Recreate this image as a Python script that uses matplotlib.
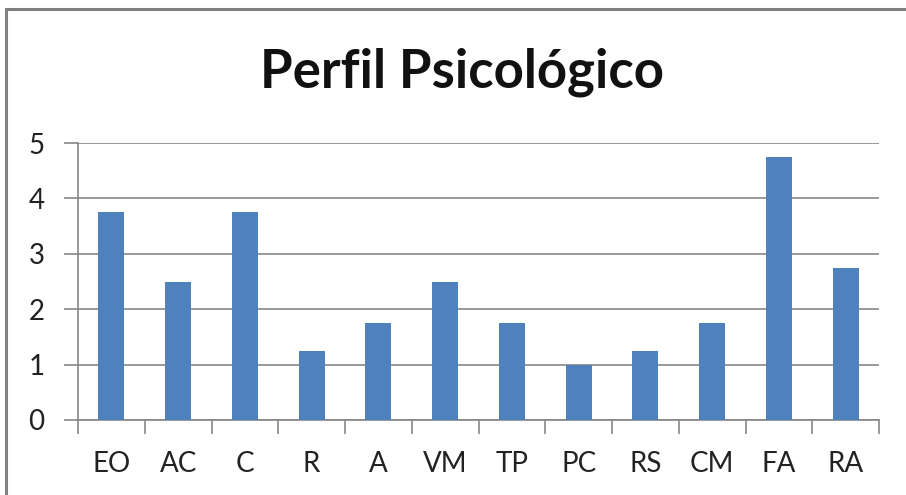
import matplotlib
matplotlib.use("Agg")
import matplotlib.pyplot as plt
from matplotlib.patches import Rectangle
import numpy as np

categories = ["EO", "AC", "C", "R", "A", "VM", "TP", "PC", "RS", "CM", "FA", "RA"]
values = [3.75, 2.5, 3.75, 1.25, 1.75, 2.5, 1.75, 1.0, 1.25, 1.75, 4.75, 2.75]
yticks = [0, 1, 2, 3, 4, 5]
title = "Perfil Psicológico"

plt.rcParams['font.family'] = ['Lato', 'DejaVu Sans']

fig = plt.figure(figsize=(9.06, 4.95), dpi=100)
fig.patches.append(Rectangle((6/906, -0.1), 1.0, 1 - 9/495 + 0.1, transform=fig.transFigure,
                             fill=False, edgecolor='#808080', linewidth=2.2))
ax = fig.add_axes([78/906, 1 - 420/495, (879 - 78)/906, (420 - 143)/495])

x = np.arange(len(categories))
ax.bar(x, values, width=0.39, color='#4F81BD', zorder=3)
ax.set_xlim(-0.5, len(categories) - 0.5)
ax.set_ylim(0, 5)
ax.set_yticks(yticks)
ax.set_yticklabels([str(t) for t in yticks], fontsize=20, color='#222222')
ax.set_xticks(x)
ax.set_xticklabels(categories, fontsize=20, color='#222222')
ax.tick_params(axis='x', length=0, pad=22)
ax.set_xticks(np.arange(-0.5, len(categories), 1), minor=True)
ax.tick_params(axis='x', which='minor', length=10, color='#868686', width=1.2)
ax.tick_params(axis='y', length=10, color='#868686', width=1.2, pad=14)
ax.grid(axis='y', color='#868686', linewidth=1.2, zorder=0)
for s in ['top', 'right']:
    ax.spines[s].set_visible(False)
for s in ['left', 'bottom']:
    ax.spines[s].set_color('#868686')
    ax.spines[s].set_linewidth(1.2)

fig.text(462/906, 1 - 72/495, title, fontsize=38, fontweight='bold', ha='center', va='center', color='#111111')

fig.savefig("out.png", dpi=100)
